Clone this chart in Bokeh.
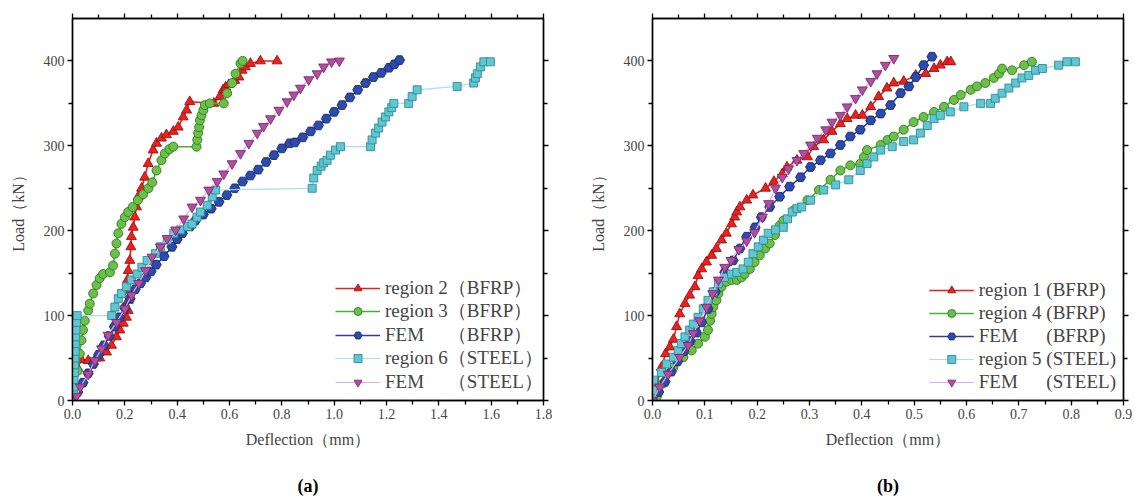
from bokeh.plotting import figure
from bokeh.models import (LinearAxis, FixedTicker, Legend, LegendItem, Title,
                          Range1d, NumeralTickFormatter, ColumnDataSource)
from bokeh.layouts import row
from bokeh.embed import file_html
from bokeh.resources import INLINE

FONT = "Liberation Serif"
NB = "\u00a0"

# ---------------- Panel (a) data: deflection (mm) / load (kN) ----------------
A_R2_D = [0, 0.02, 0.034, 0.06, 0.09, 0.104, 0.13, 0.149, 0.168, 0.181, 0.194, 0.206, 0.213, 0.213, 0.21,
          0.21, 0.213, 0.219, 0.223, 0.225, 0.232, 0.238, 0.245, 0.251, 0.264, 0.276, 0.289, 0.308, 0.321,
          0.34, 0.359, 0.385, 0.404, 0.423, 0.436, 0.448, 0.54, 0.563, 0.576, 0.585, 0.597, 0.62, 0.636,
          0.648, 0.661, 0.68, 0.718, 0.782]
A_R2_L = [0, 38, 48, 47, 50, 50, 57, 65, 75, 83, 91, 98, 106, 118, 130, 142, 153, 165, 181, 193, 204, 216,
          228, 240, 250, 263, 279, 295, 303, 309, 313, 317, 322, 334, 342, 352, 350, 358, 366, 369, 372, 377,
          381, 389, 393, 397, 400, 400]

A_R3_D = [0, 0.01, 0.02, 0.028, 0.034, 0.04, 0.047, 0.06, 0.066, 0.079, 0.092, 0.104, 0.117, 0.143, 0.155,
          0.162, 0.168, 0.175, 0.187, 0.2, 0.213, 0.23, 0.25, 0.27, 0.29, 0.305, 0.321, 0.34, 0.353, 0.37,
          0.385, 0.474, 0.477, 0.48, 0.484, 0.487, 0.493, 0.5, 0.506, 0.525, 0.578, 0.591, 0.61, 0.623,
          0.642, 0.65]
A_R3_L = [0, 15, 35, 55, 71, 83, 94, 106, 114, 126, 136, 144, 149, 151, 159, 173, 185, 197, 208, 216, 222,
          228, 236, 243, 250, 257, 271, 283, 291, 296, 299, 299, 307, 315, 322, 330, 336, 342, 348, 350,
          350, 362, 374, 385, 397, 400]

A_FB_D = [0, 0.02, 0.04, 0.06, 0.08, 0.10, 0.12, 0.14, 0.16, 0.18, 0.20, 0.22, 0.24, 0.26, 0.28, 0.30,
          0.32, 0.35, 0.38, 0.40, 0.42, 0.45, 0.47, 0.50, 0.53, 0.56, 0.59, 0.62, 0.65, 0.68, 0.71, 0.74,
          0.77, 0.80, 0.83, 0.85, 0.88, 0.91, 0.94, 0.97, 1.00, 1.03, 1.06, 1.09, 1.12, 1.15, 1.18, 1.21,
          1.23, 1.25]
A_FB_L = [0, 10, 21, 32, 43, 54, 65, 76, 87, 98, 109, 120, 131, 138, 145, 152, 160, 170, 181, 190, 197,
          205, 212, 219, 226, 234, 242, 250, 258, 265, 272, 281, 289, 297, 303, 304, 310, 317, 324, 332,
          340, 348, 357, 366, 374, 381, 386, 392, 396, 401]

A_R6_D = [0, 0.005, 0.005, 0.006, 0.007, 0.008, 0.009, 0.01, 0.011, 0.012, 0.013, 0.015, 0.018, 0.15,
          0.162, 0.175, 0.187, 0.206, 0.225, 0.247, 0.265, 0.285, 0.317, 0.336, 0.362, 0.387, 0.413, 0.44,
          0.457, 0.476, 0.489, 0.515, 0.534, 0.547, 0.916, 0.922, 0.935, 0.95, 0.96, 0.973, 0.986, 1.005,
          1.024, 1.139, 1.145, 1.158, 1.17, 1.183, 1.196, 1.209, 1.22, 1.228, 1.285, 1.298, 1.317, 1.47,
          1.533, 1.54, 1.547, 1.559, 1.572, 1.597]
A_R6_L = [0, 8, 16, 25, 33, 42, 50, 58, 67, 75, 83, 92, 100, 100, 110, 120, 126, 134, 142, 149, 157, 165,
          173, 181, 189, 197, 201, 205, 208, 216, 222, 230, 240, 248, 250, 262, 271, 276, 280, 283, 289,
          295, 299, 299, 307, 315, 321, 328, 334, 340, 345, 350, 350, 358, 366, 370, 374, 380, 385, 393,
          399, 399]

A_FS_D = [0, 0.015, 0.03, 0.06, 0.085, 0.111, 0.136, 0.168, 0.2, 0.225, 0.253, 0.279, 0.304, 0.336,
          0.362, 0.394, 0.425, 0.457, 0.489, 0.521, 0.553, 0.578, 0.61, 0.642, 0.674, 0.706, 0.73, 0.757,
          0.789, 0.82, 0.846, 0.871, 0.903, 0.935, 0.96, 0.99, 1.02]
A_FS_L = [0, 5, 16, 31, 47, 61, 77, 92, 108, 124, 138, 153, 169, 181, 191, 201, 214, 228, 236, 248, 258,
          267, 279, 291, 303, 315, 323, 332, 342, 352, 360, 368, 378, 385, 393, 399, 400]

A_LABELS = ["region 2（BFRP）", "region 3（BFRP）", "FEM" + NB * 5 + "（BFRP）",
            "region 6（STEEL）", "FEM" + NB * 5 + "（STEEL）"]

# ---------------- Panel (b) data ----------------
B_R1_D = [0, 0.008, 0.017, 0.025, 0.033, 0.04, 0.046, 0.052, 0.062, 0.071, 0.081, 0.087, 0.094, 0.103,
          0.113, 0.122, 0.132, 0.141, 0.151, 0.157, 0.161, 0.167, 0.18, 0.192, 0.216, 0.232, 0.248, 0.257,
          0.276, 0.296, 0.308, 0.327, 0.343, 0.359, 0.372, 0.388, 0.401, 0.417, 0.432, 0.448, 0.461, 0.48,
          0.503, 0.522, 0.538, 0.55, 0.563, 0.57]
B_R1_L = [0, 18, 39, 55, 63, 72, 87, 102, 114, 124, 134, 147, 155, 163, 171, 179, 189, 197, 208, 216, 222,
          228, 236, 242, 250, 258, 267, 275, 283, 287, 299, 307, 317, 326, 332, 336, 336, 346, 358, 368,
          374, 376, 383, 385, 391, 395, 399, 399]

B_R4_D = [0, 0.008, 0.02, 0.04, 0.059, 0.075, 0.087, 0.1, 0.106, 0.11, 0.113, 0.116, 0.122, 0.126, 0.132,
          0.141, 0.151, 0.161, 0.17, 0.176, 0.186, 0.195, 0.205, 0.215, 0.224, 0.234, 0.243, 0.25, 0.27,
          0.296, 0.318, 0.34, 0.359, 0.378, 0.397, 0.404, 0.41, 0.436, 0.449, 0.461, 0.48, 0.499, 0.518,
          0.538, 0.557, 0.576, 0.589, 0.608, 0.62, 0.636, 0.652, 0.662, 0.668, 0.687, 0.71, 0.725]
B_R4_L = [0, 4, 20, 39, 51, 59, 67, 75, 83, 94, 102, 110, 118, 126, 134, 140, 142, 142, 145, 149, 155, 163,
          171, 179, 185, 195, 206, 212, 224, 236, 248, 260, 271, 277, 279, 287, 295, 301, 307, 311, 319,
          328, 334, 340, 346, 354, 360, 366, 370, 374, 380, 385, 391, 389, 395, 399]

B_FB_D = [0, 0.012, 0.024, 0.036, 0.048, 0.06, 0.072, 0.084, 0.094, 0.106, 0.12, 0.138, 0.154, 0.167,
          0.18, 0.196, 0.208, 0.224, 0.243, 0.262, 0.283, 0.302, 0.321, 0.34, 0.359, 0.378, 0.397, 0.417,
          0.436, 0.455, 0.474, 0.49, 0.503, 0.518, 0.534]
B_FB_L = [0, 10, 22, 34, 46, 58, 70, 80, 92, 108, 128, 151, 165, 179, 193, 204, 216, 228, 240, 252, 263,
          275, 283, 291, 301, 311, 319, 330, 338, 348, 362, 370, 381, 395, 405]

B_R5_D = [0, 0.001, 0.002, 0.017, 0.027, 0.04, 0.049, 0.055, 0.062, 0.071, 0.078, 0.087, 0.097, 0.106,
          0.116, 0.126, 0.138, 0.151, 0.161, 0.173, 0.183, 0.192, 0.202, 0.212, 0.221, 0.235, 0.25, 0.258,
          0.267, 0.276, 0.285, 0.302, 0.327, 0.35, 0.375, 0.397, 0.41, 0.423, 0.436, 0.458, 0.48, 0.499,
          0.512, 0.525, 0.538, 0.55, 0.569, 0.595, 0.627, 0.646, 0.655, 0.668, 0.681, 0.694, 0.706, 0.719,
          0.732, 0.745, 0.776, 0.792, 0.808]
B_R5_L = [0, 12, 24, 33, 43, 51, 59, 67, 75, 83, 90, 98, 108, 118, 128, 138, 145, 149, 151, 155, 163, 173,
          181, 189, 197, 201, 204, 214, 222, 226, 228, 236, 248, 254, 260, 271, 279, 287, 295, 299, 305,
          307, 315, 324, 332, 336, 340, 346, 350, 350, 356, 362, 368, 374, 380, 383, 389, 391, 395, 399, 399]

B_FS_D = [0, 0.014, 0.03, 0.052, 0.068, 0.078, 0.09, 0.103, 0.115, 0.126, 0.138, 0.15, 0.165, 0.18, 0.195,
          0.21, 0.222, 0.235, 0.248, 0.26, 0.276, 0.289, 0.302, 0.315, 0.331, 0.343, 0.359, 0.372, 0.388,
          0.401, 0.417, 0.429, 0.445, 0.461]
B_FS_L = [0, 16, 31, 51, 65, 79, 94, 110, 126, 142, 157, 165, 178, 188, 198, 216, 232, 250, 263, 273, 283,
          291, 301, 309, 319, 328, 336, 346, 356, 366, 376, 385, 395, 403]

B_LABELS = ["region 1 (BFRP)", "region 4 (BFRP)", "FEM" + NB * 6 + "(BFRP)",
            "region 5 (STEEL)", "FEM" + NB * 6 + "(STEEL)"]

Y_MAJOR = [0, 100, 200, 300, 400]
Y_MINOR = [50, 150, 250, 350]
A_X_MAJOR = [0.0, 0.2, 0.4, 0.6, 0.8, 1.0, 1.2, 1.4, 1.6, 1.8]
A_X_MINOR = [0.1, 0.3, 0.5, 0.7, 0.9, 1.1, 1.3, 1.5, 1.7]
B_X_MAJOR = [0.0, 0.1, 0.2, 0.3, 0.4, 0.5, 0.6, 0.7, 0.8, 0.9]
B_X_MINOR = [0.05, 0.15, 0.25, 0.35, 0.45, 0.55, 0.65, 0.75, 0.85]

# styles: (line colour, line width, marker, size, fill, outline)
STYLES = [
    ("#e3221d", 1.6, "triangle", 10, "#e8221e", "#9a1212"),
    ("#4caf32", 1.6, "circle", 9, "#6cc04a", "#2f7a1f"),
    ("#2a3f9a", 1.6, "hex", 10, "#2d4bab", "#1b2a6e"),
    ("#a9dfe8", 1.2, "square", 8, "#62c6d2", "#2b8c96"),
    ("#e3a9dc", 1.2, "inverted_triangle", 10, "#b14ea0", "#7b2a6e"),
]

# panel (a) legend rows placed one by one (screen px from frame's bottom-left)
A_LEG_X = 263
A_LEG_Y = [99, 76, 52, 29, 5]


def style_axis(ax, show_labels=True):
    ax.axis_line_width = 1.4
    ax.axis_line_color = "black"
    ax.major_tick_in = 0
    ax.major_tick_out = 5
    ax.minor_tick_in = 0
    ax.minor_tick_out = 4
    ax.major_tick_line_width = 1.3
    ax.minor_tick_line_width = 1.3
    ax.major_label_text_font = FONT
    ax.axis_label_text_font = FONT
    ax.axis_label_text_font_size = "16px"
    ax.axis_label_text_font_style = "normal"
    if show_labels:
        ax.major_label_text_font_size = "14px"
        ax.major_label_standoff = 3
    else:
        ax.major_label_text_font_size = "1px"
        ax.major_label_text_color = None
        ax.major_label_standoff = 0


def legend_style(leg, spacing, margin, padding):
    leg.label_text_font = FONT
    leg.label_text_font_size = "19px"
    leg.label_text_line_height = 1.0
    leg.glyph_width = 45
    leg.glyph_height = 20
    leg.label_height = 20
    leg.label_standoff = 5
    leg.spacing = spacing
    leg.padding = padding
    leg.margin = margin
    leg.border_line_alpha = 0
    leg.background_fill_alpha = 0


def make_panel(series, labels, xmax, xmajor, xminor, width, bl, br, letter, per_item=None):
    p = figure(width=width, height=500, x_range=Range1d(0, xmax), y_range=Range1d(0, 450),
               output_backend="svg", toolbar_location=None,
               min_border_left=bl, min_border_right=br, min_border_top=18, min_border_bottom=100)
    p.xgrid.visible = False
    p.ygrid.visible = False
    p.outline_line_color = "black"
    p.outline_line_width = 1.4
    p.background_fill_color = "white"
    p.border_fill_color = "white"

    p.xaxis.ticker = FixedTicker(ticks=xmajor, minor_ticks=xminor)
    p.yaxis.ticker = FixedTicker(ticks=Y_MAJOR, minor_ticks=Y_MINOR)
    p.xaxis.formatter = NumeralTickFormatter(format="0.0")
    p.xaxis.axis_label = "Deflection（mm）"
    p.yaxis.axis_label = "Load（kN）"
    style_axis(p.xaxis[0])
    style_axis(p.yaxis[0])
    p.xaxis.axis_label_standoff = 9
    p.yaxis.axis_label_standoff = 14

    top = LinearAxis(ticker=FixedTicker(ticks=xmajor, minor_ticks=xminor))
    right = LinearAxis(ticker=FixedTicker(ticks=Y_MAJOR, minor_ticks=Y_MINOR))
    style_axis(top, False)
    style_axis(right, False)
    p.add_layout(top, "above")
    p.add_layout(right, "right")

    items = []
    for (d, L), lab, st in zip(series, labels, STYLES):
        lc, lw, mk, sz, fc, oc = st
        src = ColumnDataSource(dict(x=d, y=L))
        r1 = p.line("x", "y", source=src, line_color=lc, line_width=lw)
        r2 = p.scatter("x", "y", source=src, marker=mk, size=sz, fill_color=fc,
                       line_color=oc, line_width=0.9)
        items.append(LegendItem(label=lab, renderers=[r1, r2]))

    if per_item is None:
        leg = Legend(items=items, location="bottom_right")
        legend_style(leg, 1, 4, 3)
        p.add_layout(leg)
    else:
        lx, ly = per_item
        for it, yy in zip(items, ly):
            leg = Legend(items=[it], location=(lx, yy))
            legend_style(leg, 0, 0, 0)
            p.add_layout(leg)

    # invisible spacer between the x axis and the caption
    spacer = LinearAxis(ticker=FixedTicker(ticks=[0], minor_ticks=[]))
    spacer.axis_line_color = None
    spacer.major_tick_in = 0
    spacer.major_tick_out = 20
    spacer.minor_tick_out = 0
    spacer.major_tick_line_color = None
    spacer.minor_tick_line_color = None
    spacer.major_label_text_color = None
    spacer.major_label_text_font_size = "1px"
    spacer.major_label_standoff = 0
    p.add_layout(spacer, "below")

    cap = Title(text="(" + letter + ")", align="center", text_font=FONT,
                text_font_size="18px", text_font_style="bold", text_color="black", standoff=6)
    p.add_layout(cap, "below")
    return p


pa = make_panel([(A_R2_D, A_R2_L), (A_R3_D, A_R3_L), (A_FB_D, A_FB_L), (A_R6_D, A_R6_L), (A_FS_D, A_FS_L)],
                A_LABELS, 1.8, A_X_MAJOR, A_X_MINOR, 580, 72, 37, "a", (A_LEG_X, A_LEG_Y))
pb = make_panel([(B_R1_D, B_R1_L), (B_R4_D, B_R4_L), (B_FB_D, B_FB_L), (B_R5_D, B_R5_L), (B_FS_D, B_FS_L)],
                B_LABELS, 0.9, B_X_MAJOR, B_X_MINOR, 554, 72, 11, "b")

layout = row(pa, pb)
open("out.html", "w").write(file_html(layout, INLINE))
